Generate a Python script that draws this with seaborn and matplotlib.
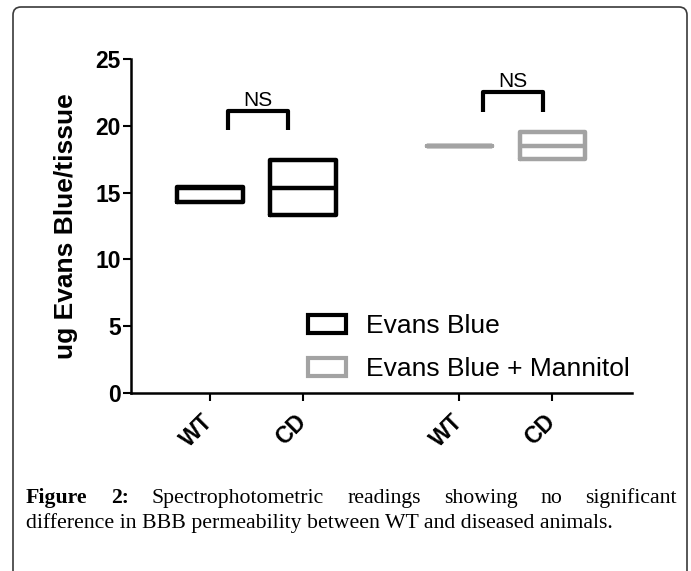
import pandas as pd
import matplotlib.pyplot as plt
import seaborn as sns
from matplotlib.patches import Patch, FancyBboxPatch
from matplotlib.transforms import IdentityTransform

# values (floating bars: min, median, max)
treatments = ["Evans Blue", "Evans Blue + Mannitol"]
genotypes = ["WT", "CD"]
low = [14.3, 13.3, 18.5, 17.5]
median = [15.35, 15.35, 18.5, 18.5]
high = [15.45, 17.45, 18.5, 19.55]
ns_labels = ["NS", "NS"]

colors = {"Evans Blue": "#000000", "Evans Blue + Mannitol": "#a3a3a3"}

# long table: min and max repeated so that Q1 = min and Q3 = max
rows = []
i = 0
for gi, trt in enumerate(treatments):
    for k, gen in enumerate(genotypes):
        pos = gi * 2.68 + k
        for v in [low[i], low[i], median[i], high[i], high[i]]:
            rows.append({"pos": pos, "genotype": gen, "treatment": trt, "value": v})
        i += 1
df = pd.DataFrame(rows)
positions = sorted(df["pos"].unique())

sns.set_style("ticks")
plt.rcParams["font.family"] = ["Liberation Sans", "DejaVu Sans"]
plt.rcParams.update({"text.color": "black", "axes.labelcolor": "black",
                     "xtick.color": "black", "ytick.color": "black"})

W, H = 691, 571
fig = plt.figure(figsize=(W / 100, H / 100), dpi=100)
ax = fig.add_axes([131 / W, 1 - 393 / H, 501 / W, 334 / H])

sns.boxplot(data=df, x="pos", y="value", hue="treatment", native_scale=True,
            palette=colors, fill=False, dodge=False, width=0.7, whis=0,
            showcaps=False, showfliers=False, linewidth=3.2, legend=False,
            whiskerprops={"linewidth": 0}, ax=ax)

# NS brackets
brackets = [(0.19, 0.84, 19.7, 21.1), (2.94, 3.58, 21.0, 22.5)]
for (x0, x1, yb, yt), lab in zip(brackets, ns_labels):
    ax.plot([x0, x0, x1, x1], [yb, yt, yt, yb], color="black", lw=3,
            solid_joinstyle="round", solid_capstyle="butt")
    ax.annotate(lab, ((x0 + x1) / 2, yt), xytext=(0, 4), textcoords="offset points",
                ha="center", va="baseline", fontsize=15, color="black")

ax.set_xlim(-0.849, 4.538)
ax.set_ylim(0, 25)
ax.set_yticks([0, 5, 10, 15, 20, 25])
ax.set_xticks(positions)
ax.set_xticklabels(genotypes * 2, rotation=45, ha="right", va="center",
                   rotation_mode="anchor", fontweight="bold", fontsize=16.5)
plt.setp(ax.get_yticklabels(), fontweight="bold", fontsize=16.5)
ax.tick_params(axis="y", length=6, width=1.5, pad=1.5, color="black")
ax.tick_params(axis="x", length=6, width=1.5, pad=12, color="black")
ax.set_xlabel("")
ax.set_ylabel("ug Evans Blue/tissue", fontsize=19, fontweight="bold")
ax.yaxis.set_label_coords(-0.105, 0.5)
sns.despine(ax=ax)
for side in ["left", "bottom"]:
    ax.spines[side].set_linewidth(1.8)
    ax.spines[side].set_color("black")

handles = [Patch(facecolor="none", edgecolor=colors[t], linewidth=3,
                 joinstyle="round") for t in treatments]
ax.legend(handles, treatments, loc="upper left", bbox_to_anchor=(0.353, 0.237),
          frameon=False, fontsize=19, handlelength=1.44, handleheight=0.68,
          handletextpad=0.76, labelspacing=0.72, borderpad=0, borderaxespad=0)

# caption below the chart
renderer = fig.canvas.get_renderer()
serif = "Liberation Serif"
line1 = ["Figure", "2:", "Spectrophotometric", "readings", "showing", "no", "significant"]
bold1 = [True, True, False, False, False, False, False]
line2 = "difference in BBB permeability between WT and diseased animals."

probe = fig.text(0, 0, line2, family=serif, fontsize=10, transform=IdentityTransform())
size = 10 * 585 / probe.get_window_extent(renderer).width
probe.remove()

fig.text(26, H - 528, line2, family=serif, fontsize=size, va="baseline",
         transform=IdentityTransform())

texts = [fig.text(0, H - 503, w, family=serif, fontsize=size, va="baseline",
                  fontweight="bold" if b else "normal", transform=IdentityTransform())
         for w, b in zip(line1, bold1)]
widths = [t.get_window_extent(renderer).width for t in texts]
gap = (677 - 26 - sum(widths)) / (len(texts) - 1)
x = 26
for t, w in zip(texts, widths):
    t.set_x(x)
    x += w + gap

# frame around the figure (open at the bottom edge)
frame = FancyBboxPatch((13, -30), 674, H - 7 + 30, boxstyle="round,pad=0,rounding_size=8",
                       fill=False, edgecolor="#3a3a3a", linewidth=1.2,
                       transform=IdentityTransform())
fig.add_artist(frame)

fig.savefig("out.png", dpi=100)
